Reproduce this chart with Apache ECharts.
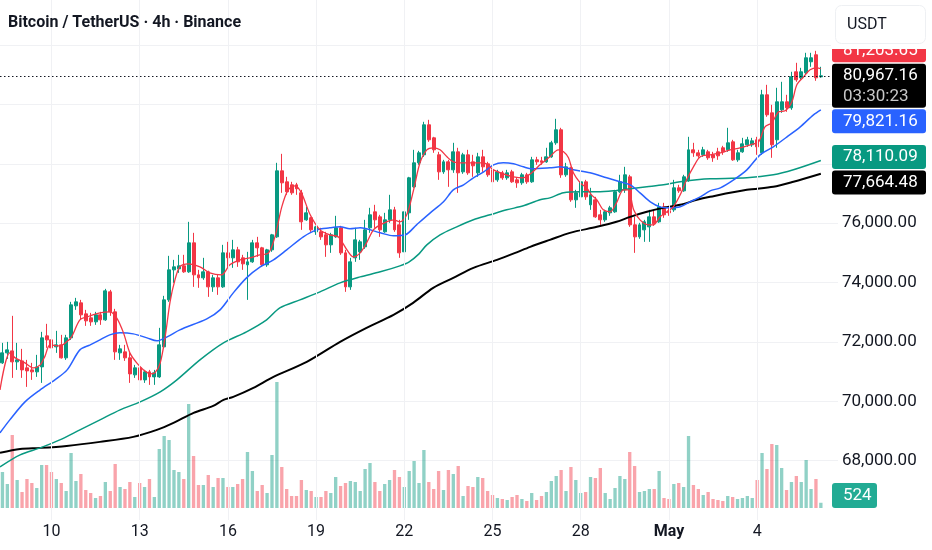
<!DOCTYPE html>
<html>
<head>
<meta charset="utf-8">
<title>Bitcoin / TetherUS · 4h · Binance</title>
<script src="https://cdn.jsdelivr.net/npm/echarts@6/dist/echarts.min.js"></script>
<style>
  html, body { margin: 0; padding: 0; background: #fff; }
  #chart { width: 932px; height: 550px; }
</style>
</head>
<body>
<div id="chart"></div>
<script>
// 4h candles: [open, close, low, high]
const candles = [
  [71294, 71631, 71260, 71968], [71631, 71732, 71429, 72002], [71698, 71328, 70789, 72878], [71328, 71395, 71058, 71968],
  [71360, 71058, 70789, 71766], [71126, 71024, 70485, 71395], [71058, 70991, 70721, 71294], [70991, 71159, 70822, 71564],
  [71159, 72137, 70620, 72339], [72204, 72069, 71800, 72609], [72069, 71800, 71665, 73181], [71833, 71901, 71631, 72373],
  [71901, 71463, 71440, 72238], [71463, 72137, 71395, 72238], [72137, 73249, 72069, 73350], [73215, 73350, 73080, 73484],
  [73316, 72912, 72743, 73417], [72945, 72710, 72541, 73080], [72811, 72676, 72541, 72979], [72676, 72912, 72575, 73013],
  [72912, 72743, 72575, 73013], [72743, 73720, 72710, 73788], [73687, 73013, 72878, 73754], [73013, 71665, 71395, 73114],
  [71631, 71766, 71395, 71901], [71665, 71463, 71361, 71901], [71463, 70923, 70620, 71631], [70890, 71126, 70789, 71227],
  [71126, 70721, 70553, 71227], [70721, 70991, 70620, 71058], [70991, 70822, 70553, 71058], [70822, 70957, 70553, 71058],
  [70822, 71901, 70789, 72474], [71833, 73417, 71800, 73552], [73417, 74428, 73350, 74900], [74428, 74529, 73990, 74765],
  [74462, 74563, 74327, 74934], [74563, 74361, 74327, 74934], [74361, 75338, 74327, 76046], [75338, 74260, 73855, 75675],
  [74260, 74159, 73822, 74428], [74159, 74361, 74091, 74833], [74361, 73855, 73518, 74400], [73855, 74159, 73687, 74260],
  [74159, 73855, 73586, 74260], [73855, 75001, 73822, 75271], [75001, 74833, 74529, 75372], [74833, 75102, 74496, 75439],
  [75102, 74698, 74529, 75203], [74833, 74630, 74428, 74934], [74597, 74698, 73417, 75035], [74698, 75338, 74664, 75439],
  [75338, 75170, 74866, 75540], [75170, 74597, 74529, 75203], [74597, 75102, 74529, 75136], [75102, 75608, 75035, 75640],
  [75540, 77764, 75507, 78034], [77764, 77360, 77023, 78337], [77394, 77057, 76956, 77562], [77293, 77023, 76956, 77394],
  [77293, 77158, 76956, 77360], [77023, 76046, 75776, 77124], [76113, 76349, 76080, 76551], [76181, 75776, 75709, 76214],
  [75709, 75877, 75608, 75911], [75709, 75540, 75439, 75844], [75608, 75271, 74866, 75709], [75271, 75608, 75001, 75675],
  [75540, 75844, 75507, 76248], [75844, 75001, 74934, 75911], [75001, 73855, 73687, 75102], [73855, 74698, 73754, 74833],
  [74833, 75439, 74698, 75844], [75035, 75372, 74765, 75439], [75203, 75776, 75136, 76113], [75844, 76282, 75675, 76518],
  [76383, 76113, 75844, 76619], [76214, 75776, 75540, 76282], [75709, 76113, 75675, 76349], [76113, 76450, 76012, 76956],
  [76450, 75776, 75709, 76551], [75945, 75001, 74833, 76113], [75035, 76383, 74967, 76416], [76349, 77529, 76113, 77562],
  [77225, 78034, 77192, 78472], [78034, 78371, 77967, 78438], [78304, 79315, 78236, 79416], [79315, 78809, 78742, 79483],
  [78876, 78472, 78371, 78910], [78304, 77730, 77461, 78405], [77730, 78068, 77663, 78135], [78068, 77798, 77225, 78135],
  [77798, 78405, 77697, 78708], [78405, 77697, 77023, 78540], [77730, 78304, 77663, 78371], [78304, 77697, 77630, 78472],
  [78068, 77933, 77562, 78304], [77697, 78236, 77562, 78371], [78236, 77899, 77730, 78472], [78000, 77630, 77562, 78068],
  [77798, 77394, 77293, 77899], [77461, 77730, 77394, 77798], [77697, 77529, 77461, 77764], [77529, 77697, 77461, 77798],
  [77730, 77394, 77360, 77798], [77461, 77360, 77192, 77529], [77360, 77630, 77293, 77697], [77630, 77394, 77326, 77697],
  [77394, 78135, 77360, 78236], [78135, 78068, 77967, 78236], [78102, 78050, 77967, 78236], [78068, 78236, 78034, 78540],
  [78236, 78708, 78203, 78775], [78708, 79147, 78641, 79517], [79147, 77630, 77529, 79214], [77630, 77899, 77562, 78034],
  [77865, 76787, 76720, 77899], [76787, 77023, 76518, 77124], [76888, 77394, 76854, 77562], [77394, 76888, 76787, 77461],
  [76619, 76956, 76450, 77192], [76787, 76214, 76181, 76888], [76282, 76113, 75945, 76450], [76113, 76383, 76046, 76450],
  [76349, 76518, 76248, 76585], [76383, 77057, 76349, 77124], [77057, 77394, 77023, 77630], [77124, 77630, 77023, 77899],
  [77562, 75945, 75877, 77630], [75945, 75540, 75001, 76214], [75540, 75945, 75473, 76012], [75776, 76046, 75372, 76113],
  [75877, 76214, 75372, 76450], [76214, 75978, 75911, 76450], [76046, 76551, 76012, 76686], [76551, 76282, 76181, 76686],
  [76416, 76349, 76248, 76585], [76450, 77192, 76383, 77461], [77192, 77090, 77023, 77293], [77090, 77562, 77057, 77630],
  [77461, 78472, 77394, 78910], [78472, 78371, 78236, 78708], [78371, 78270, 78203, 78472], [78304, 78472, 78236, 78573],
  [78405, 78203, 78135, 78472], [78304, 78203, 78068, 78405], [78405, 78270, 78135, 78540], [78540, 78405, 78304, 78607],
  [78472, 78708, 78405, 79214], [78742, 78135, 78102, 78809], [78135, 78371, 78068, 78472], [78405, 78674, 78371, 78876],
  [78641, 78809, 78573, 78910], [78641, 78775, 78573, 78876], [78809, 78573, 78304, 78910], [78371, 80326, 78304, 80494],
  [80326, 79652, 79584, 80662], [79719, 78641, 78203, 79988], [78809, 80090, 78540, 80562], [79820, 80090, 79719, 80764],
  [80090, 79887, 79753, 80326], [79887, 80932, 79820, 81101], [81101, 80831, 80764, 81404], [80898, 81101, 80831, 81235],
  [81067, 81573, 81000, 81741], [81438, 81573, 81269, 81741], [81674, 80898, 80797, 81808], [80932, 80967.16, 80900, 81269]
];

const volumes = [
  3600, 2400, 7300, 2800, 1600, 2900, 2500, 2000, 4300, 4300, 3600, 2900, 2500, 1700, 5500, 2700,
  3400, 1800, 1500, 1000, 1200, 2600, 1700, 4400, 2100, 1900, 2600, 1100, 2500, 2100, 2900, 1100,
  5900, 7200, 6800, 3800, 3600, 2900, 10400, 5200, 2300, 2300, 3300, 2100, 3000, 3000, 2100, 2100,
  2400, 2900, 5600, 3700, 1700, 2300, 1500, 5300, 12600, 4100, 1900, 1200, 1200, 2800, 1800, 1700,
  1100, 1100, 1700, 1500, 3100, 2200, 2500, 2700, 2600, 1700, 3900, 4500, 2600, 1700, 2400, 2800,
  3800, 3100, 2100, 3700, 4700, 2500, 5800, 2600, 1900, 3700, 1800, 3800, 3400, 4200, 1200, 2200,
  2100, 3100, 3000, 1700, 1300, 1000, 900, 800, 1100, 1300, 900, 700, 1500, 800, 1200, 1600,
  2700, 3200, 3800, 1700, 4100, 2800, 1500, 1600, 3100, 3000, 4000, 1500, 900, 2000, 3200, 2900,
  5600, 4200, 1600, 1700, 1900, 1900, 3700, 1000, 900, 2400, 2500, 2100, 7200, 2300, 1900, 1300,
  1600, 900, 800, 700, 1200, 1100, 900, 1000, 1200, 1000, 2800, 5500, 3900, 6400, 6300, 4000,
  1800, 2600, 3200, 2600, 4800, 1900, 2900, 524
];

// moving averages: [bar index, price]
const maRed = [
  [-0.5, 70384], [1.5, 71631], [2.6, 71463], [4.6, 71294], [6.3, 71126], [7.7, 71227], [8.7, 71530], [9.7, 71901],
  [11.7, 71867], [13.1, 72002], [14.1, 72170], [15.8, 72743], [17.3, 72844], [19.9, 72979], [21.9, 73013], [23.3, 72811],
  [24.7, 72305], [26, 71631], [27.4, 71294], [28.8, 71058], [30.1, 70923], [31.1, 70957], [32.2, 71294], [33.2, 72170],
  [34.2, 73350], [35.2, 74091], [36.2, 74529], [37.9, 74630], [40.3, 74529], [42.3, 74327], [44.7, 74260], [46.4, 74597],
  [48.5, 74765], [50.5, 74833], [52.5, 74934], [54.3, 75001], [55.6, 75540], [57, 76551], [58.3, 77124], [59.7, 77259],
  [61, 77023], [62.8, 76282], [64.8, 75776], [66.8, 75608], [68.5, 75540], [70.3, 75102], [71.6, 74866], [73, 75001],
  [74.3, 75338], [75.7, 75776], [77.1, 75945], [78.4, 76046], [79.8, 76113], [81.1, 76046], [82.5, 76282], [83.9, 77124],
  [85.2, 78034], [86.6, 78472], [87.9, 78540], [89.3, 78472], [90.7, 78236], [92, 78068], [94.1, 78034], [96.1, 78034],
  [98.2, 78034], [100.2, 77798], [102.2, 77663], [104.3, 77562], [106.3, 77529], [108, 77697], [109.7, 77967], [111.7, 78236],
  [113.4, 78472], [114.5, 78405], [115.5, 78203], [116.5, 77697], [117.9, 77360], [119.2, 77192], [120.2, 76956], [121.3, 76787],
  [122.6, 76450], [124, 76383], [125.3, 76686], [126.7, 77124], [127.7, 77124], [128.8, 76450], [130.1, 76113], [131.8, 75945],
  [132.8, 75945], [134.2, 76214], [135.6, 76383], [136.9, 76551], [138.3, 76956], [139.6, 77461], [141, 77899], [142.4, 78236],
  [144.4, 78304], [146.5, 78371], [148.5, 78472], [150.5, 78540], [152.6, 78641], [154.3, 78742], [155.6, 79247], [157, 79382],
  [158.4, 79753], [159.7, 79786], [161.1, 80090], [162.1, 80662], [163.5, 80932], [164.8, 81168], [166.2, 81235], [167, 81203.65]
];
const maBlue = [
  [-0.5, 68935], [1.5, 69373], [4.6, 69980], [7.7, 70384], [10.7, 70721], [13.2, 71058], [15.8, 71732], [17.9, 71901],
  [19.9, 72069], [21.9, 72238], [24, 72305], [26.7, 72271], [29.5, 72137], [31.5, 72036], [33.6, 72170], [36.2, 72406],
  [41.7, 72777], [44.4, 73080], [47.1, 73653], [49.8, 74159], [52.6, 74529], [55.3, 74765], [58, 75102], [61.4, 75540],
  [64.1, 75776], [66.8, 75844], [68.9, 75877], [70.9, 75810], [73, 75844], [77.1, 75675], [79.8, 75574], [82.2, 75608],
  [84.5, 75945], [87.3, 76349], [90, 76720], [92, 77124], [94.1, 77293], [96.1, 77529], [98.2, 77730], [100.2, 77967],
  [102.2, 78034], [104.3, 78000], [106.3, 77899], [108, 77832], [111.7, 77865], [113.8, 77899], [116.5, 77798], [119.9, 77697],
  [123.3, 77529], [126, 77394], [128.1, 77293], [130.1, 77023], [132.2, 76720], [134.2, 76551], [136.2, 76518], [138.3, 76551],
  [140.3, 76720], [142.4, 76888], [144.4, 77090], [146.5, 77192], [149.2, 77461], [151.9, 77798], [154.6, 78304], [157.3, 78573],
  [160.1, 78910], [162.8, 79247], [165.5, 79652], [167, 79821.16]
];
const maGreen = [
  [-0.5, 67789], [3.6, 68194], [7.7, 68430], [11.7, 68699], [15.8, 69036], [19.9, 69373], [24, 69710], [28.1, 69980],
  [32.2, 70317], [35.6, 70721], [40.3, 71395], [45.1, 71968], [49.8, 72339], [53.9, 72743], [56.6, 73148], [60.7, 73417],
  [64.8, 73687], [68.9, 73990], [73, 74192], [77.1, 74361], [81.1, 74563], [83, 74698], [85, 74967], [86.6, 75271],
  [89.3, 75608], [92.7, 75878], [96.1, 76114], [99.5, 76282], [102.9, 76450], [106.3, 76585], [109.7, 76787], [111.7, 76854],
  [114.5, 77023], [117.9, 77057], [121.3, 77057], [124.7, 77090], [128.1, 77158], [131.5, 77225], [134.9, 77293], [138.3, 77394],
  [141.7, 77461], [144.4, 77495], [151.9, 77529], [157.3, 77630], [161.4, 77798], [167, 78110.09]
];
const maBlack = [
  [-0.5, 68261], [3.6, 68396], [7.7, 68430], [13.1, 68497], [19.9, 68632], [26.7, 68800], [31.5, 69036], [34.9, 69272],
  [39, 69609], [43, 69845], [45.1, 70047], [47.1, 70148], [51.2, 70451], [55.3, 70822], [62.1, 71328], [68.9, 72002],
  [74.3, 72474], [79.8, 72912], [83.8, 73316], [87.9, 73822], [92, 74159], [96.1, 74496], [100.9, 74765], [104.5, 74990],
  [107.7, 75203], [111.7, 75439], [115.8, 75675], [121.3, 75877], [125.3, 76046], [128.1, 76214], [131.5, 76383], [134.9, 76518],
  [138.3, 76619], [141.7, 76787], [144.4, 76888], [151.9, 77124], [157.3, 77225], [161.4, 77394], [167, 77664.48]
];

const priceTicks = [68000, 70000, 72000, 74000, 76000];
const dayTicks = ['Apr 10 00:00', 'Apr 13 00:00', 'Apr 16 00:00', 'Apr 19 00:00', 'Apr 22 00:00',
                  'Apr 25 00:00', 'Apr 28 00:00', 'May 1 00:00', 'May 4 00:00'];
const dayTickLabels = ['10', '13', '16', '19', '22', '25', '28', 'May', '4'];
const lastPrice = 80967.16;
const countdown = '03:30:23';

// categories: one per 4h bar from Apr 8 08:00, plus empty room on the right
const MONTHS = ['Jan', 'Feb', 'Mar', 'Apr', 'May', 'Jun', 'Jul', 'Aug', 'Sep', 'Oct', 'Nov', 'Dec'];
const categories = [];
const start = Date.UTC(2025, 3, 8, 8);
for (let i = 0; i < candles.length; i++) {
  const d = new Date(start + i * 4 * 3600 * 1000);
  const hh = String(d.getUTCHours()).padStart(2, '0');
  categories.push(MONTHS[d.getUTCMonth()] + ' ' + d.getUTCDate() + ' ' + hh + ':00');
}
const rightRoom = 3;
for (let i = 0; i < rightRoom; i++) categories.push('pad' + i);
const N = categories.length;

const UP = '#089981', DOWN = '#f23645';
const FONT = 'Roboto';
const fmt = v => v.toLocaleString('en-US', { minimumFractionDigits: 2, maximumFractionDigits: 2 });

const volumeData = volumes.map((v, i) => ({
  value: v,
  itemStyle: { color: candles[i][1] >= candles[i][0] ? 'rgba(8,153,129,0.45)' : 'rgba(242,54,69,0.45)' }
}));

function maSeries(data, color, width) {
  return {
    type: 'line', data: data, xAxisIndex: 1, yAxisIndex: 0,
    smooth: 0.3, symbol: 'none', silent: true, z: 4, clip: false,
    lineStyle: { color: color, width: width }
  };
}

const chart = echarts.init(document.getElementById('chart'), null, { renderer: 'canvas' });

chart.setOption({
  animation: false,
  backgroundColor: '#ffffff',
  grid: [
    { left: 0, right: 94, top: 0, height: 520 },
    { left: 0, right: 94, top: 380, height: 128 }
  ],
  xAxis: [
    {
      type: 'category', gridIndex: 0, data: categories, boundaryGap: true,
      axisLine: { show: false }, axisTick: { show: false }, splitLine: { show: false },
      axisLabel: {
        margin: 4, color: '#131722', fontFamily: FONT, fontSize: 16,
        interval: (idx, val) => dayTicks.includes(val),
        formatter: val => {
          const k = dayTicks.indexOf(val);
          if (k < 0) return '';
          return dayTickLabels[k] === 'May' ? '{b|May}' : dayTickLabels[k];
        },
        rich: { b: { fontWeight: 'bold', fontFamily: FONT, fontSize: 16, color: '#131722' } }
      }
    },
    { type: 'value', gridIndex: 0, min: -0.5, max: N - 0.5, show: false },
    { type: 'category', gridIndex: 1, data: categories, boundaryGap: true, show: false }
  ],
  yAxis: [
    {
      // 29.68 px per 1000 USDT, as in the picture
      type: 'value', gridIndex: 0, position: 'right', min: 66000, max: 83520, interval: 2000,
      axisLine: { show: false }, axisTick: { show: false },
      axisLabel: {
        margin: 4, color: '#131722', fontFamily: FONT, fontSize: 17,
        formatter: v => priceTicks.includes(v) ? fmt(v) : ''
      },
      splitLine: { show: true, showMinLine: false, showMaxLine: false, lineStyle: { color: '#f0f1f4', width: 1 } }
    },
    { type: 'value', gridIndex: 1, min: 0, max: 12800, show: false }
  ],
  series: [
    {
      // vertical grid lines at the labelled days
      type: 'line', xAxisIndex: 1, yAxisIndex: 0, data: [], z: 0, silent: true,
      markLine: {
        silent: true, symbol: 'none', label: { show: false },
        lineStyle: { color: '#f0f1f4', type: 'solid', width: 1 },
        data: dayTicks.map(d => ({ xAxis: categories.indexOf(d) }))
      }
    },
    {
      type: 'bar', name: 'Volume', xAxisIndex: 2, yAxisIndex: 1, data: volumeData,
      barWidth: '68%', silent: true, z: 1
    },
    {
      type: 'candlestick', name: 'BTCUSDT', xAxisIndex: 0, yAxisIndex: 0, data: candles,
      barWidth: '70%', z: 3, clip: false,
      itemStyle: { color: UP, color0: DOWN, borderColor: UP, borderColor0: DOWN, borderWidth: 1 },
      markLine: {
        silent: true, symbol: 'none', label: { show: false },
        lineStyle: { color: '#131722', type: [1.5, 2.5], width: 1 },
        data: [{ yAxis: lastPrice }]
      }
    },
    maSeries(maBlack, '#000000', 2),
    maSeries(maGreen, '#089981', 1.5),
    maSeries(maBlue, '#2962ff', 1.5),
    maSeries(maRed, '#f23645', 1.3)
  ]
});

// price tags on the right scale, pushed apart so they do not overlap
const tagDefs = [
  { value: maRed[maRed.length - 1][1], color: '#f23645' },
  { value: lastPrice, color: '#000000', sub: countdown, main: true },
  { value: maBlue[maBlue.length - 1][1], color: '#2962ff' },
  { value: maGreen[maGreen.length - 1][1], color: '#089981' },
  { value: maBlack[maBlack.length - 1][1], color: '#000000' }
];
const tags = tagDefs.map(t => {
  const y = chart.convertToPixel({ yAxisIndex: 0 }, t.value);
  return Object.assign({}, t, { top: y - 12, h: t.sub ? 44 : 24 });
}).sort((a, b) => a.top - b.top);

for (let it = 0; it < 40; it++) {
  for (let k = 0; k < tags.length - 1; k++) {
    const a = tags[k], b = tags[k + 1];
    const overlap = a.top + a.h + 1.5 - b.top;
    if (overlap <= 0) continue;
    if (a.main) b.top += overlap;
    else if (b.main) a.top -= overlap;
    else { a.top -= overlap * 0.3; b.top += overlap * 0.7; }
  }
}

const graphics = [];
graphics.push({
  type: 'text', left: 8, top: 15, z: 100,
  style: { text: 'Bitcoin / TetherUS · 4h · Binance', fill: '#131722', font: 'bold 16px ' + FONT }
});
tags.forEach(t => {
  graphics.push({
    type: 'rect', z: 100,
    shape: { x: 832, y: t.top, width: 94, height: t.h, r: 3 },
    style: { fill: t.color }
  });
  graphics.push({
    type: 'text', z: 101, x: 843, y: t.top + 12,
    style: { text: fmt(t.value), fill: '#ffffff', font: '17px ' + FONT, verticalAlign: 'middle' }
  });
  if (t.sub) {
    graphics.push({
      type: 'text', z: 101, x: 843, y: t.top + 33,
      style: { text: t.sub, fill: '#c8c8c8', font: '17px ' + FONT, verticalAlign: 'middle' }
    });
  }
});

// volume tag, kept inside the pane
const lastVol = volumes[volumes.length - 1];
const vy = chart.convertToPixel({ yAxisIndex: 1 }, lastVol);
const vTop = Math.min(vy - 12, 508 - 25);
graphics.push({
  type: 'rect', z: 100, shape: { x: 832, y: vTop, width: 45, height: 25, r: 3 },
  style: { fill: '#22ab94' }
});
graphics.push({
  type: 'text', z: 101, x: 843, y: vTop + 12.5,
  style: { text: String(lastVol), fill: '#ffffff', font: '17px ' + FONT, verticalAlign: 'middle' }
});

// top of the price scale with the currency button
graphics.push({
  type: 'rect', z: 110, shape: { x: 831, y: 0, width: 101, height: 49 },
  style: { fill: '#ffffff' }
});
graphics.push({
  type: 'rect', z: 111, shape: { x: 835.5, y: 5.5, width: 90, height: 38, r: 6 },
  style: { fill: '#ffffff', stroke: '#eef0f3', lineWidth: 1 }
});
graphics.push({
  type: 'text', z: 112, x: 847, y: 25,
  style: { text: 'USDT', fill: '#131722', font: '16px ' + FONT, verticalAlign: 'middle' }
});

chart.setOption({ graphic: graphics });
</script>
</body>
</html>
